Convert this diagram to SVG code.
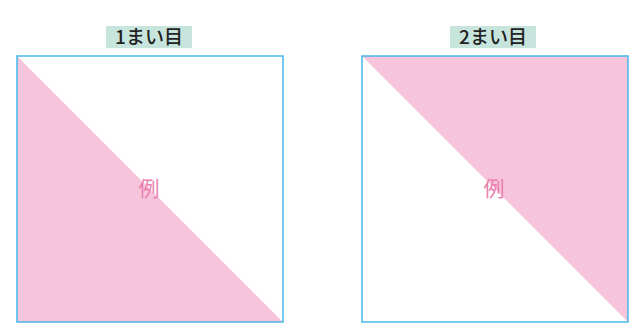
<svg xmlns="http://www.w3.org/2000/svg" width="637" height="327" viewBox="0 0 637 327">
<style>
.box{fill:none;stroke:#45b8ea;stroke-width:1.5}
.tri{fill:#f6c5dc}
.lbg{fill:#c7e5dc}
.lt{font-family:"Noto Sans CJK JP","Liberation Sans",sans-serif;font-size:19px;font-weight:500;fill:#222}
.ex{font-family:"Noto Sans CJK JP",sans-serif;font-size:21px;fill:#ea7fae;text-anchor:middle}
</style>
<rect width="637" height="327" fill="#fff"/>
<g id="panel1">
<rect class="lbg" x="106" y="26" width="86" height="22"/>
<text class="lt" x="149" y="44" text-anchor="middle">1まい目</text>
<polygon class="tri" points="17,56 17,322 283,322"/>
<rect class="box" x="17" y="56" width="266" height="266"/>
<text class="ex" x="149" y="196">例</text>
</g>
<g id="panel2">
<rect class="lbg" x="450" y="26" width="86" height="22"/>
<text class="lt" x="493" y="44" text-anchor="middle">2まい目</text>
<polygon class="tri" points="362,56 628,56 628,322"/>
<rect class="box" x="362" y="56" width="266" height="266"/>
<text class="ex" x="494" y="196">例</text>
</g>
<g id="connectors"></g>
</svg>
